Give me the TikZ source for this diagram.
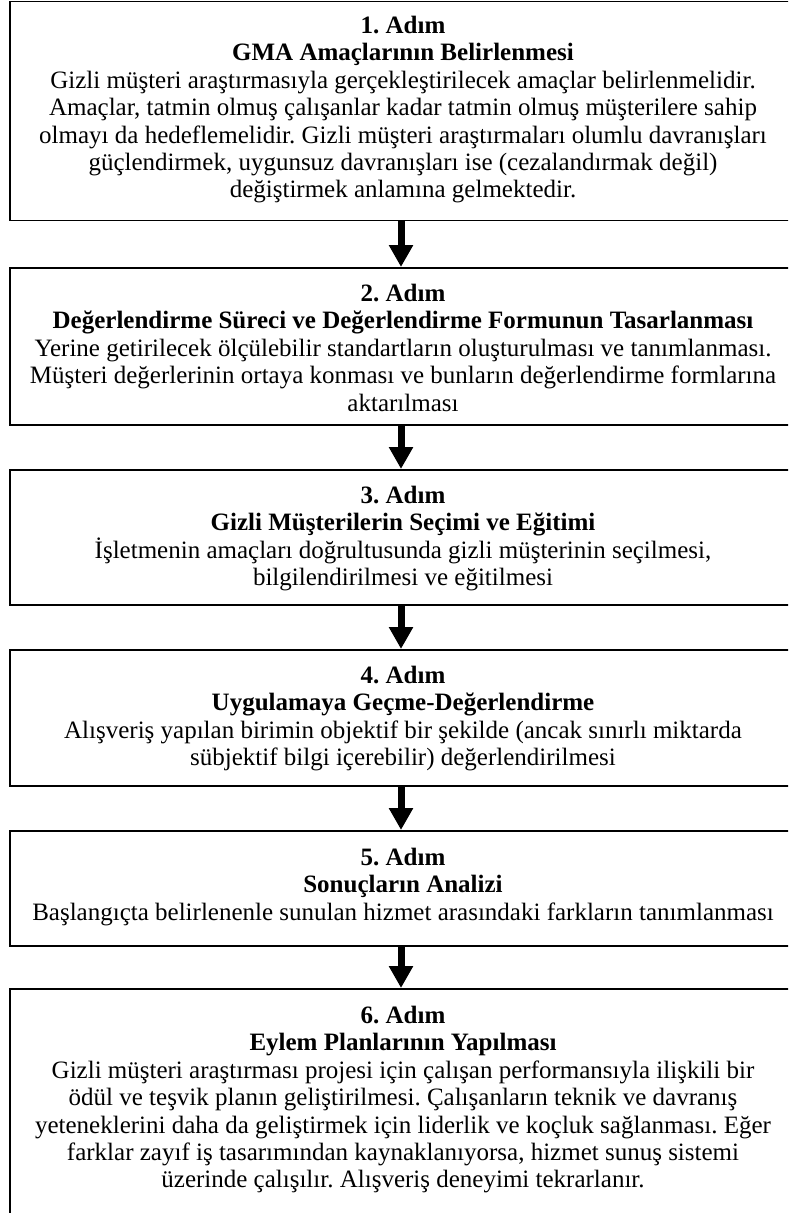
\documentclass[tikz,border=0pt]{standalone}
\usepackage{fontspec}
\setmainfont{Liberation Serif}
\usetikzlibrary{arrows.meta}
\frenchspacing
\begin{document}
\begin{tikzpicture}[x=1pt,y=-1pt,
  stepbox/.style={draw, line width=1.6pt, minimum width=786pt, inner sep=0pt, anchor=north},
  steptext/.style={anchor=north, inner sep=0pt, align=center, font={\fontsize{25}{27.4}\selectfont\lineskiplimit=-50pt}},
  flow/.style={line width=7pt, -{Triangle[width=23pt,length=22pt]}}]
\useasboundingbox (0,0) rectangle (788,1213);
\clip (0,0) rectangle (788,1213);
\fill[white] (0,0) rectangle (788,1213);
% boxes
\node[stepbox, minimum height=219pt] (b1) at (403,0.8) {};
\node[stepbox, minimum height=157pt] (b2) at (403,267) {};
\node[stepbox, minimum height=135pt] (b3) at (403,469) {};
\node[stepbox, minimum height=136pt] (b4) at (403,649) {};
\node[stepbox, minimum height=115pt] (b5) at (403,830) {};
\node[stepbox, minimum height=232pt] (b6) at (403,988) {};
% texts
\node[steptext] (t1) at (403,16) {\textbf{1. Adım}\\
\textbf{GMA Amaçlarının Belirlenmesi}\\
Gizli müşteri araştırmasıyla gerçekleştirilecek amaçlar belirlenmelidir.\\
Amaçlar, tatmin olmuş çalışanlar kadar tatmin olmuş müşterilere sahip\\
olmayı da hedeflemelidir. Gizli müşteri araştırmaları olumlu davranışları\\
güçlendirmek, uygunsuz davranışları ise (cezalandırmak değil)\\
değiştirmek anlamına gelmektedir.};
\node[steptext] (t2) at (403,284) {\textbf{2. Adım}\\
\textbf{Değerlendirme Süreci ve Değerlendirme Formunun Tasarlanması}\\
Yerine getirilecek ölçülebilir standartların oluşturulması ve tanımlanması.\\
Müşteri değerlerinin ortaya konması ve bunların değerlendirme formlarına\\
aktarılması};
\node[steptext] (t3) at (403,486) {\textbf{3. Adım}\\
\textbf{Gizli Müşterilerin Seçimi ve Eğitimi}\\
İşletmenin amaçları doğrultusunda gizli müşterinin seçilmesi,\\
bilgilendirilmesi ve eğitilmesi};
\node[steptext] (t4) at (403,666) {\textbf{4. Adım}\\
\textbf{Uygulamaya Geçme-Değerlendirme}\\
Alışveriş yapılan birimin objektif bir şekilde (ancak sınırlı miktarda\\
sübjektif bilgi içerebilir) değerlendirilmesi};
\node[steptext] (t5) at (403,848) {\textbf{5. Adım}\\
\textbf{Sonuçların Analizi}\\
Başlangıçta belirlenenle sunulan hizmet arasındaki farkların tanımlanması};
\node[steptext] (t6) at (403,1006) {\textbf{6. Adım}\\
\textbf{Eylem Planlarının Yapılması}\\
Gizli müşteri araştırması projesi için çalışan performansıyla ilişkili bir\\
ödül ve teşvik planın geliştirilmesi. Çalışanların teknik ve davranış\\
yeteneklerini daha da geliştirmek için liderlik ve koçluk sağlanması. Eğer\\
farklar zayıf iş tasarımından kaynaklanıyorsa, hizmet sunuş sistemi\\
üzerinde çalışılır. Alışveriş deneyimi tekrarlanır.};
% arrows
\draw[flow] ([xshift=-2pt]b1.south) -- ([xshift=-2pt]b2.north);
\draw[flow] ([xshift=-2pt]b2.south) -- ([xshift=-2pt]b3.north);
\draw[flow] ([xshift=-2pt]b3.south) -- ([xshift=-2pt]b4.north);
\draw[flow] ([xshift=-2pt]b4.south) -- ([xshift=-2pt]b5.north);
\draw[flow] ([xshift=-2pt]b5.south) -- ([xshift=-2pt]b6.north);
\end{tikzpicture}
\end{document}
